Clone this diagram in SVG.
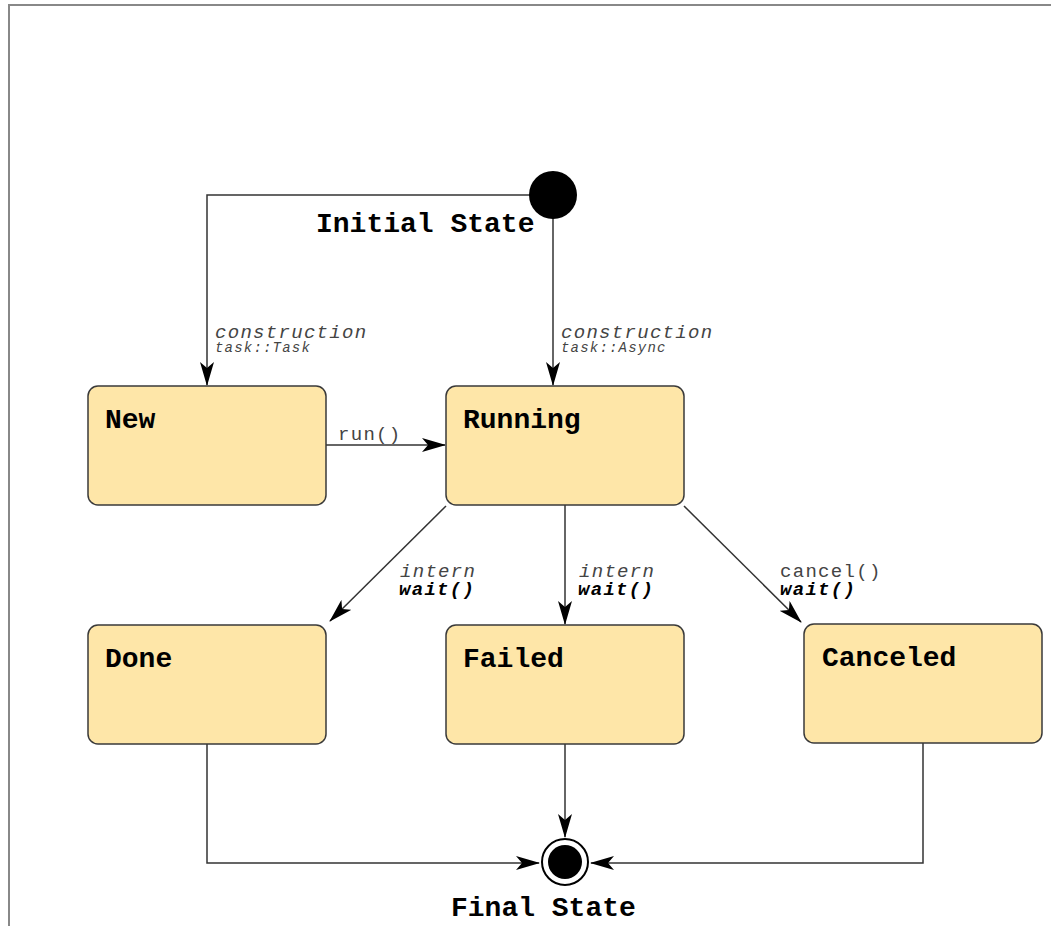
<svg xmlns="http://www.w3.org/2000/svg" width="1051" height="926" viewBox="0 0 1051 926">
<style>
.state{fill:#fee6a8;stroke:#3a3a3a;stroke-width:1.5}
.name{font-family:"Liberation Mono",monospace;font-weight:bold;font-size:28px;fill:#000}
.lbl{font-family:"Liberation Mono",monospace;font-style:italic;font-size:19px;letter-spacing:1.3px;fill:#444}
.lblr{font-family:"Liberation Mono",monospace;font-size:19px;letter-spacing:1.3px;fill:#444}
.sub{font-family:"Liberation Mono",monospace;font-style:italic;font-size:14px;letter-spacing:1.2px;fill:#444}
.bi{font-family:"Liberation Mono",monospace;font-style:italic;font-weight:bold;font-size:19px;letter-spacing:1.3px;fill:#000}
.edge{fill:none;stroke:#333;stroke-width:1.5}
</style>
<defs>
<marker id="ah" viewBox="0 0 24 14" refX="23" refY="7" markerWidth="24" markerHeight="14" markerUnits="userSpaceOnUse" orient="auto">
<path d="M0,0 L24,7 L0,14 L6,7 Z" fill="#000"/>
</marker>
</defs>
<rect width="1051" height="926" fill="#fff"/>
<path d="M9,926 V5 H1051" fill="none" stroke="#888" stroke-width="2"/>
<g id="connectors">
<path class="edge" d="M530,195 H207 V385" marker-end="url(#ah)"/>
<path class="edge" d="M553,218 V385" marker-end="url(#ah)"/>
<path class="edge" d="M326,445 H445" marker-end="url(#ah)"/>
<path class="edge" d="M446,506 L330,621" marker-end="url(#ah)"/>
<path class="edge" d="M565,505 V624" marker-end="url(#ah)"/>
<path class="edge" d="M684,506 L801,622" marker-end="url(#ah)"/>
<path class="edge" d="M207,744 V863 H539" marker-end="url(#ah)"/>
<path class="edge" d="M565,744 V837" marker-end="url(#ah)"/>
<path class="edge" d="M923,743 V863 H591" marker-end="url(#ah)"/>
<text class="lbl" x="215" y="338">construction</text>
<text class="sub" x="215" y="352">task::Task</text>
<text class="lbl" x="561" y="338">construction</text>
<text class="sub" x="561" y="352">task::Async</text>
<text class="lblr" x="338" y="440">run()</text>
<text class="lbl" x="400" y="577">intern</text>
<text class="bi" x="399" y="595">wait()</text>
<text class="lbl" x="579" y="577">intern</text>
<text class="bi" x="578" y="595">wait()</text>
<text class="lblr" x="780" y="577">cancel()</text>
<text class="bi" x="780" y="595">wait()</text>
</g>
<g id="initial">
<circle cx="553" cy="195" r="24" fill="#000"/>
<text class="name" x="316" y="232">Initial State</text>
</g>
<g id="new">
<rect class="state" x="88" y="386" width="238" height="119" rx="10"/>
<text class="name" x="105" y="428">New</text>
</g>
<g id="running">
<rect class="state" x="446" y="386" width="238" height="119" rx="10"/>
<text class="name" x="463" y="428">Running</text>
</g>
<g id="done">
<rect class="state" x="88" y="625" width="238" height="119" rx="10"/>
<text class="name" x="105" y="667">Done</text>
</g>
<g id="failed">
<rect class="state" x="446" y="625" width="238" height="119" rx="10"/>
<text class="name" x="463" y="667">Failed</text>
</g>
<g id="canceled">
<rect class="state" x="804" y="624" width="238" height="119" rx="10"/>
<text class="name" x="822" y="666">Canceled</text>
</g>
<g id="final">
<circle cx="565" cy="862" r="23" fill="#fff" stroke="#000" stroke-width="2"/>
<circle cx="565" cy="862" r="17" fill="#000"/>
<text class="name" x="451" y="916">Final State</text>
</g>
</svg>
